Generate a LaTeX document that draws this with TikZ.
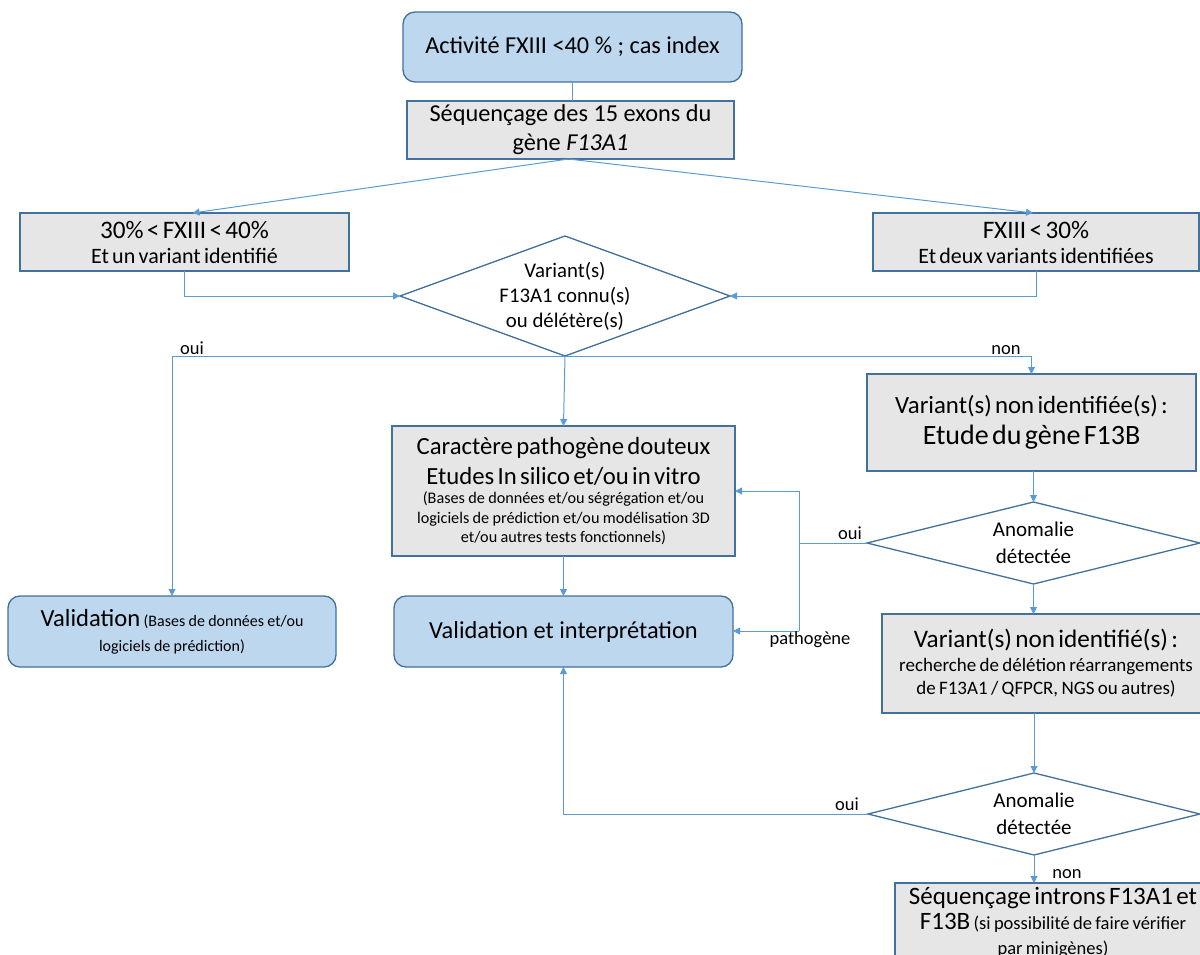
\documentclass[tikz,border=0pt]{standalone}
\usepackage{fontspec}
\setmainfont{Carlito}
\usetikzlibrary{shapes.geometric,arrows.meta,calc}
\definecolor{boxblue}{HTML}{BDD7EE}
\definecolor{boxgray}{HTML}{E6E6E6}
\definecolor{edge}{HTML}{41719C}
\definecolor{wire}{HTML}{5B9BD5}
\newcommand{\fsz}[2]{\fontsize{#1}{#2}\selectfont}

\begin{document}
\begin{tikzpicture}[x=1pt,y=-1pt,
  base/.style={draw=edge, line width=1.3pt, inner sep=0pt, outer sep=0pt, text=black},
  startbox/.style={base, fill=boxblue, rounded corners=12pt},
  procbox/.style={base, fill=boxgray},
  decision/.style={base, fill=white, shape=diamond, inner xsep=-6pt, inner ysep=-6pt},
  link/.style={draw=wire, line width=1pt},
  arr/.style={link, -{Triangle[length=7pt,width=7pt]}},
  tag/.style={font=\fsz{18.5}{22}, anchor=base, inner sep=0pt},
]
\useasboundingbox (0,0) rectangle (1200,955);
\clip (0,0) rectangle (1200,955);

% --- boxes ---
\node[startbox, minimum width=339pt, minimum height=70pt, font=\fsz{24.3}{29}] (top) at (572.5,47)
  {Activité FXIII <40 \% ; cas index};
\node[procbox, minimum width=327pt, minimum height=58pt, align=center, font=\fsz{24.3}{29}] (seq) at (570.5,130)
  {Séquençage des 15 exons du\\gène \textit{F13A1}};
\node[procbox, minimum width=329pt, minimum height=58pt, text width=320pt, align=center] (lo) at (184.5,242)
  {{\fsz{25.2}{29}30\% < FXIII < 40\%\par}{\fsz{22}{25}Et un variant identifié\par}};
\node[procbox, minimum width=326pt, minimum height=58pt, text width=320pt, align=center] (hi) at (1036,242)
  {{\fsz{25.2}{29}FXIII < 30\%\par}{\fsz{22}{25}Et deux variants identifiées\par}};
\node[decision, minimum width=330pt, minimum height=120pt, aspect=2.75, align=center, font=\fsz{20.8}{25}] (d1) at (565,296)
  {Variant(s)\\F13A1 connu(s)\\ou délétère(s)};
\node[procbox, minimum width=343pt, minimum height=130pt, text width=335pt, align=center] (car) at (563.5,491)
  {{\fsz{24.7}{30}Caractère pathogène douteux\par Etudes In silico et/ou in vitro\par}%
   {\fsz{16.2}{19.5}(Bases de données et/ou ségrégation et/ou\par logiciels de prédiction et/ou modélisation 3D\par et/ou autres tests fonctionnels)\par}};
\node[startbox, minimum width=339pt, minimum height=71pt, font=\fsz{24.4}{29}] (vi) at (563.5,631.5)
  {Validation et interprétation};
\node[startbox, minimum width=328pt, minimum height=71pt, text width=320pt, align=center] (val) at (172,631.5)
  {{\fsz{24.6}{29}Validation} {\fsz{16}{25}(Bases de données et/ou\\logiciels de prédiction)\par}};
\node[procbox, minimum width=329pt, minimum height=97pt, text width=320pt, align=center] (f13b) at (1031.5,422.5)
  {{\fsz{24.8}{29}Variant(s) non identifiée(s) :\par}{\fsz{28}{31}Etude du gène F13B\par}};
\node[decision, minimum width=333pt, minimum height=82pt, aspect=4.06, align=center, font=\fsz{21}{27}] (d2) at (1033.5,543)
  {Anomalie\\détectée};
\node[procbox, minimum width=328pt, minimum height=99pt, text width=325pt, align=center] (b3) at (1046,663.5)
  {{\fsz{25.2}{29}Variant(s) non identifié(s) :\par}{\fsz{19}{23.5}recherche de délétion réarrangements\par de F13A1 / QFPCR, NGS ou autres)\par}};
\node[decision, minimum width=332pt, minimum height=82pt, aspect=4.05, align=center, font=\fsz{21}{27}] (d3) at (1034,814)
  {Anomalie\\détectée};
\node[procbox, minimum width=316pt, minimum height=78pt, text width=312pt, align=center] (b4) at (1053,922)
  {{\fsz{25}{29}Séquençage introns F13A1 et\par}{\fsz{25}{30}F13B}{\fsz{18.5}{25} (si possibilité de faire vérifier\\ par minigènes)\par}};

% --- connectors ---
\draw[link] (top.south) -- (top.south |- seq.north);
\draw[arr] ([xshift=-2pt]seq.south) -- ([xshift=8pt]lo.north);
\draw[arr] ([xshift=-2pt]seq.south) -- ([xshift=-3pt]hi.north);
\draw[arr] (lo.south) |- (d1.west);
\draw[arr] (hi.south) |- (d1.east);
\draw[arr] (d1.south) -| (val.north);
\draw[arr] (d1.south) -| (f13b.north);
\draw[arr] (d1.south) -- (car.north);
\draw[arr] (car.south) -- (vi.north);
\draw[arr] (d2.north |- f13b.south) -- (d2.north);
\coordinate (jt) at (799,491);
\coordinate (jb) at (799,631);
\draw[link] (d2.west) -- (d2.west -| jt);
\draw[link] (jt) -- (jb);
\draw[arr] (jt) -- (jt -| car.east);
\draw[arr] (jb) -- (jb -| vi.east);
\draw[arr] (d2.south) -- (d2.south |- b3.north);
\draw[arr] (d3.north |- b3.south) -- (d3.north);
\draw[arr] (d3.west) -| (vi.south);
\draw[arr] (d3.south) -- (d3.south |- b4.north);

% --- branch labels ---
\node[tag] (l1) at (192,354) {oui};
\node[tag] (l2) at (1006,354) {non};
\node[tag] (l3) at (850,539) {oui};
\node[tag] (l4) at (810,644) {pathogène};
\node[tag] (l5) at (847,810) {oui};
\node[tag] (l6) at (1067,878) {non};
\end{tikzpicture}
\end{document}
